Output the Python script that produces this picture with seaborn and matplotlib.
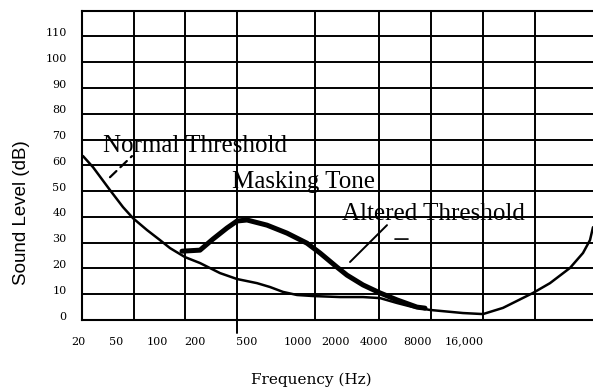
import matplotlib
matplotlib.use("Agg")
import matplotlib.pyplot as plt
import matplotlib.transforms as mtransforms
import numpy as np
import pandas as pd
import seaborn as sns

# ---- data (x = position along the printed frequency axis, y = dB) ----
normal_pos = [1, 11, 28, 41, 51, 65, 78, 88, 103, 118, 138, 155, 175, 188, 201,
              215, 231, 258, 281, 298, 315, 331, 348, 381, 401, 421, 451, 468,
              488, 501, 508, 511]
normal_db = [63.6, 59.3, 50.4, 43.8, 39.5, 34.9, 31.0, 27.9, 24.4, 22.1, 18.2,
             15.9, 14.3, 12.8, 10.9, 9.7, 9.3, 8.9, 8.9, 8.5, 6.6, 5.0, 3.9,
             2.7, 2.3, 4.7, 10.5, 14.3, 20.2, 26.0, 31.0, 36.0]

altered_pos = [100, 118, 131, 145, 155, 165, 185, 205, 225, 238, 255, 265, 281,
               298, 315, 335, 343]
altered_db = [26.7, 27.1, 31.4, 35.7, 38.4, 38.8, 36.8, 33.7, 29.8, 26.0, 20.5,
              17.4, 13.6, 10.5, 7.8, 5.0, 4.6]

freq_label_pos = [0, 34, 75, 113, 165, 216, 254, 292, 335, 382]
freq_labels = ['20', '50', '100', '200', '500', '1000', '2000', '4000', '8000', '16,000']
grid_x = [52, 103, 155, 233, 297, 349, 401, 453]
db_ticks = list(range(0, 120, 10))

normal_df = pd.DataFrame({'pos': normal_pos, 'db': normal_db})
altered_df = pd.DataFrame({'pos': altered_pos, 'db': altered_db})

sns.set_style("white")
plt.rcParams['font.family'] = ['DejaVu Serif']
plt.rcParams['text.color'] = 'black'
plt.rcParams['axes.labelcolor'] = 'black'
plt.rcParams['xtick.color'] = 'black'
plt.rcParams['ytick.color'] = 'black'

fig = plt.figure(figsize=(5.93, 3.91), dpi=100)
ax = fig.add_axes([82 / 593, 71 / 391, 511 / 593, 309.3 / 391])

sns.lineplot(data=normal_df, x='pos', y='db', ax=ax, color='black', lw=1.8,
             sort=False, estimator=None)
sns.lineplot(data=altered_df, x='pos', y='db', ax=ax, color='black', lw=3.6,
             sort=False, estimator=None, solid_capstyle='round')

ax.set_xlim(0, 511)
ax.set_ylim(0, 120)

# grid
ax.set_yticks(db_ticks)
ax.set_yticklabels([str(v) for v in db_ticks], fontsize=8)
ax.set_xticks(freq_label_pos)
ax.set_xticklabels(freq_labels, fontsize=8)
ax.set_xticks(grid_x, minor=True)
ax.grid(False)
ax.grid(True, which='major', axis='y', color='black', lw=1.4)
ax.grid(True, which='minor', axis='x', color='black', lw=1.4)
ax.tick_params(axis='both', which='both', length=0, labelcolor='black')
ax.tick_params(axis='x', pad=12)
ax.tick_params(axis='y', pad=11)

for s in ['left', 'bottom', 'top']:
    ax.spines[s].set_visible(True)
    ax.spines[s].set_color('black')
    ax.spines[s].set_linewidth(1.5)
ax.spines['right'].set_visible(False)

# small tick below the 500 label
ax.axvline(155, ymin=-13 / 309.3, ymax=0, color='black', lw=1.4, clip_on=False)

# y tick labels sit slightly above their grid lines
up = mtransforms.ScaledTranslation(0, 0.045, fig.dpi_scale_trans)
for lbl in ax.get_yticklabels():
    lbl.set_transform(lbl.get_transform() + up)
left = mtransforms.ScaledTranslation(-0.04, 0, fig.dpi_scale_trans)
ax.get_xticklabels()[0].set_transform(ax.get_xticklabels()[0].get_transform() + left)

ax.set_xlabel('Frequency (Hz)', fontsize=11, va='center', color='black')
ax.xaxis.set_label_coords((311 - 82) / 511, (320 - 380) / 309.3)
ax.set_ylabel('Sound Level (dB)', fontsize=13.5, family=['Liberation Sans'],
              va='center', color='black')
ax.yaxis.set_label_coords((22 - 82) / 511, (320 - 213) / 309.3)

# annotations
ann_font = dict(family=['Liberation Serif'], fontsize=18, va='baseline', ha='left',
                color='black')
ax.text(21, 65.1, 'Normal Threshold', **ann_font)
ax.text(150, 51.2, 'Masking Tone', **ann_font)
ax.text(260, 38.8, 'Altered Threshold', **ann_font)

ax.annotate('', xy=(50, 63.6), xytext=(28, 55.4),
            arrowprops=dict(arrowstyle='-', color='black', lw=1.6,
                            linestyle=(0, (4, 2.5)), shrinkA=0, shrinkB=0))
ax.annotate('', xy=(305, 36.8), xytext=(268, 22.5),
            arrowprops=dict(arrowstyle='-', color='black', lw=1.4,
                            shrinkA=0, shrinkB=0))
ax.annotate('', xy=(326, 31.4), xytext=(313, 31.4),
            arrowprops=dict(arrowstyle='-', color='black', lw=1.2,
                            shrinkA=0, shrinkB=0))

fig.savefig('out.png', dpi=100, facecolor='white')
